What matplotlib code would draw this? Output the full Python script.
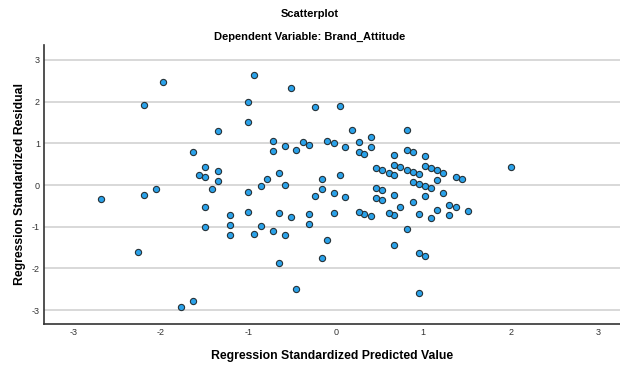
import matplotlib
matplotlib.use("Agg")
import matplotlib.pyplot as plt

plt.rcParams['font.family'] = ['Liberation Sans', 'DejaVu Sans']
plt.rcParams['axes.unicode_minus'] = False

# standardized predicted values (x) and standardized residuals (y)
pred = [-1.98, -2.19, -0.93, -1.00, -1.00, -0.51, -0.24, -1.35, -1.63, -0.72,
        -0.72, -0.58, -0.45, -0.37, -0.31, -0.10, -1.49, -1.56, -1.49, -1.35,
        -1.35, -0.79, -0.65, -0.86, -0.58, -0.16, -0.16, -2.05, -1.42, 0.05,
        0.19, 0.81, -0.02, 0.11, 0.26, 0.26, 0.32, 0.40, 0.40, 0.81,
        0.88, 0.67, 1.02, 0.46, 0.53, 0.61, 0.67, 0.67, 0.74, 0.81,
        0.88, 0.95, 1.02, 1.09, 1.16, 1.23, 1.37, 1.44, 2.00, 0.05,
        0.88, 0.95, 1.02, 1.09, 1.16, 0.46, 0.53, -2.68, -2.19, -1.00,
        -0.24, -1.49, -1.21, -1.21, -1.21, -1.49, -1.00, -0.93, -0.86, -0.72,
        -0.65, -0.58, -0.51, -0.31, -0.31, -0.10, -0.16, -0.65, -0.45, -2.26,
        -1.77, -1.63, -0.02, 0.11, 0.46, 0.53, 0.67, 1.23, 1.02, 0.88,
        0.74, 1.30, 1.37, 1.51, 1.30, 1.16, 1.09, 0.95, 0.67, 0.61,
        0.40, 0.32, 0.26, -0.02, 0.81, 0.67, 0.95, 1.02, 0.95]
resid = [2.47, 1.91, 2.64, 1.98, 1.50, 2.32, 1.87, 1.29, 0.78, 1.06,
         0.82, 0.94, 0.84, 1.03, 0.97, 1.06, 0.43, 0.25, 0.19, 0.33,
         0.09, 0.15, 0.28, -0.03, 0.00, 0.15, -0.09, -0.09, -0.09, 1.90,
         1.32, 1.33, 1.00, 0.90, 1.03, 0.79, 0.74, 1.16, 0.92, 0.85,
         0.79, 0.71, 0.69, 0.40, 0.35, 0.29, 0.24, 0.47, 0.43, 0.37,
         0.32, 0.27, 0.45, 0.40, 0.35, 0.30, 0.19, 0.14, 0.43, 0.24,
         0.08, 0.03, -0.02, -0.07, 0.11, -0.07, -0.11, -0.34, -0.23, -0.17,
         -0.27, -0.52, -0.72, -0.96, -1.20, -1.00, -0.64, -1.17, -0.99, -1.09,
         -0.67, -1.20, -0.77, -0.69, -0.93, -1.32, -1.75, -1.86, -2.49, -1.60,
         -2.92, -2.79, -0.19, -0.29, -0.32, -0.37, -0.24, -0.18, -0.26, -0.40,
         -0.52, -0.47, -0.52, -0.63, -0.71, -0.60, -0.79, -0.69, -0.72, -0.66,
         -0.74, -0.69, -0.64, -0.67, -1.06, -1.43, -1.63, -1.69, -2.59]

ticks = [-3, -2, -1, 0, 1, 2, 3]

fig = plt.figure(figsize=(6.2, 3.65), dpi=100)
ax = fig.add_axes([0.071, 0.1123, 0.929, 0.765])

# horizontal reference lines at each tick
for t in ticks:
    ax.axhline(t, color='#d6d6d6', linewidth=1.3, zorder=1)

ax.scatter(pred, resid, s=20, facecolor='#2aa2ea', edgecolor='#263238',
           linewidth=0.8, zorder=3)

ax.set_xlim(-3.336, 3.25)
ax.set_ylim(-3.33, 3.36)
ax.set_xticks(ticks)
ax.set_yticks(ticks)
ax.tick_params(length=0, labelsize=6.5, labelcolor='#333333', pad=3)

for side in ['top', 'right']:
    ax.spines[side].set_visible(False)
for side in ['left', 'bottom']:
    ax.spines[side].set_color('#333333')
    ax.spines[side].set_linewidth(1.2)

ax.set_xlabel('Regression Standardized Predicted Value', fontsize=8.8,
              fontweight='bold', labelpad=9)
ax.set_ylabel('Regression Standardized Residual', fontsize=8.8,
              fontweight='bold', labelpad=4)

fig.text(0.5, 0.962, 'Scatterplot', ha='center', va='center',
         fontsize=8, fontweight='bold')
fig.text(0.5, 0.899, 'Dependent Variable: Brand_Attitude', ha='center',
         va='center', fontsize=8, fontweight='bold')

fig.savefig('out.png', dpi=100)
